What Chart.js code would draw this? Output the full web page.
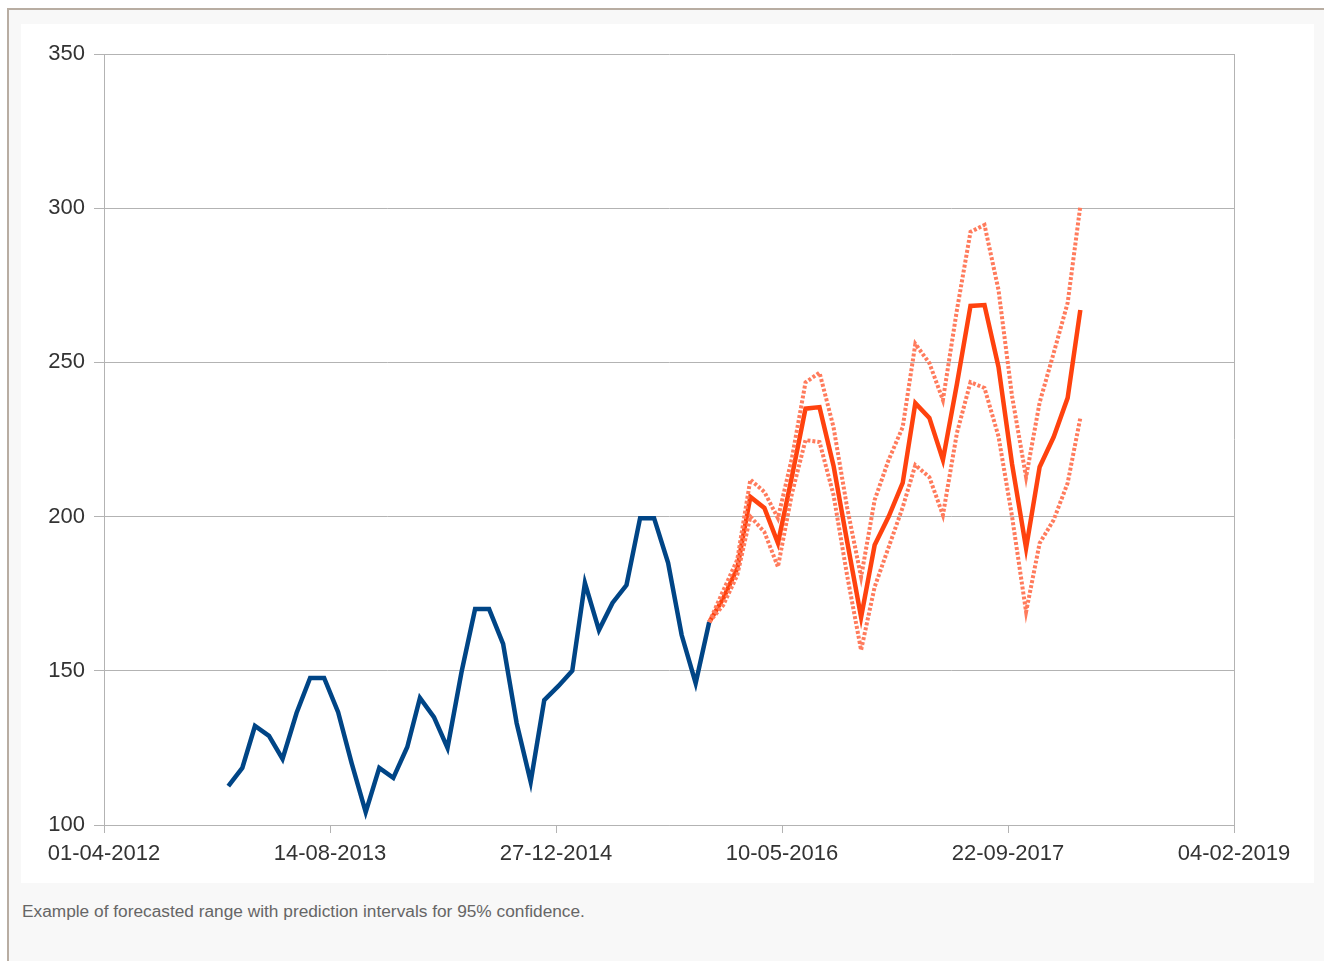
<!DOCTYPE html>
<html>

<head>
  <title>Forecast with prediction intervals</title>
  <script src="https://cdn.jsdelivr.net/npm/chart.js"></script>
  <style>
    body {
      margin: 0;
      background-color: #fff;
      font-family: "Liberation Sans", Arial, sans-serif;
    }

    #frame {
      position: absolute;
      left: 7px;
      top: 8px;
      width: 1400px;
      height: 1000px;
      border: 2px solid #b8ada2;
      background-color: #f8f8f8;
    }

    #chartContainer {
      position: absolute;
      left: 21px;
      top: 24px;
      width: 1293px;
      height: 859px;
      background-color: #fff;
    }

    #caption {
      position: absolute;
      left: 22px;
      top: 901px;
      font-size: 17.3px;
      color: #666;
    }
  </style>
</head>

<body>
  <div id="frame"></div>
  <div id="chartContainer">
    <canvas id="myChart"></canvas>
  </div>
  <div id="caption">Example of forecasted range with prediction intervals for 95% confidence.</div>

  <script>
    // observed monthly values
    const actualDates = [
      '2013-01-01', '2013-02-01', '2013-03-01', '2013-04-01', '2013-05-01', '2013-06-01',
      '2013-07-01', '2013-08-01', '2013-09-01', '2013-10-01', '2013-11-01', '2013-12-01',
      '2014-01-01', '2014-02-01', '2014-03-01', '2014-04-01', '2014-05-01', '2014-06-01',
      '2014-07-01', '2014-08-01', '2014-09-01', '2014-10-01', '2014-11-01', '2014-12-01',
      '2015-01-01', '2015-02-01', '2015-03-01', '2015-04-01', '2015-05-01', '2015-06-01',
      '2015-07-01', '2015-08-01', '2015-09-01', '2015-10-01', '2015-11-01', '2015-12-01'
    ];
    const actualValues = [
      112.6, 118.5, 132.1, 128.9, 121.4, 136.3, 147.7, 147.7, 136.6, 120, 104.2, 118.5,
      115.3, 125.3, 141.2, 135.0, 125.0, 149.6, 170, 170, 158.7, 133, 114, 140.5,
      145, 150, 178.5, 163.2, 172, 177.8, 199.5, 199.5, 185, 161.6, 146, 165.8
    ];

    // forecast and 95% bounds
    const forecastDates = [
      '2015-12-01',
      '2016-01-01', '2016-02-01', '2016-03-01', '2016-04-01', '2016-05-01', '2016-06-01',
      '2016-07-01', '2016-08-01', '2016-09-01', '2016-10-01', '2016-11-01', '2016-12-01',
      '2017-01-01', '2017-02-01', '2017-03-01', '2017-04-01', '2017-05-01', '2017-06-01',
      '2017-07-01', '2017-08-01', '2017-09-01', '2017-10-01', '2017-11-01', '2017-12-01',
      '2018-01-01', '2018-02-01', '2018-03-01'
    ];
    const forecastValues = [
      165.8, 173.5, 183.2, 206.4, 202.8, 191.4, 213, 235, 235.5, 216.5, 192, 167.4, 190.8,
      200, 210.9, 236.8, 232, 218.4, 243, 268.3, 268.6, 248.5, 217, 189.8, 216.1, 225.8,
      238.5, 267
    ];
    const upperValues = [
      165.8, 176, 186, 212, 208, 199.5, 219, 243.5, 246.7, 229, 203, 180.4, 205.4,
      218.4, 229, 256, 249.8, 237.8, 267, 292.3, 294.6, 273.5, 239, 212.8, 237, 253,
      269.3, 300.7
    ];
    const lowerValues = [
      165.8, 171.3, 181, 200, 195, 183.7, 207.5, 224.8, 224.2, 207, 181, 156.7, 177.2,
      190.1, 203, 216.7, 212.8, 200.5, 227.1, 243.6, 241.7, 226, 200, 169.1, 191.4, 198.9,
      210.9, 232
    ];

    const yTicks = [100, 150, 200, 250, 300, 350];

    const origin = Date.UTC(2012, 3, 1);
    const dayMs = 86400000;

    function toDay(s) {
      const p = s.split('-');
      return (Date.UTC(+p[0], +p[1] - 1, +p[2]) - origin) / dayMs;
    }

    function fmtDay(v) {
      const d = new Date(origin + v * dayMs);
      const dd = String(d.getUTCDate()).padStart(2, '0');
      const mm = String(d.getUTCMonth() + 1).padStart(2, '0');
      return dd + '-' + mm + '-' + d.getUTCFullYear();
    }

    function pairs(dates, values) {
      return dates.map((d, i) => ({ x: toDay(d), y: values[i] }));
    }

    const gridColor = '#b3b3b3';
    const ctx = document.getElementById('myChart').getContext('2d');
    new Chart(ctx, {
      type: 'line',
      data: {
        datasets: [{
          data: pairs(forecastDates, upperValues),
          borderColor: '#ff7b5c',
          borderWidth: 4,
          borderDash: [3, 2],
          pointRadius: 0,
          fill: false
        },
        {
          data: pairs(forecastDates, lowerValues),
          borderColor: '#ff7b5c',
          borderWidth: 4,
          borderDash: [3, 2],
          pointRadius: 0,
          fill: false
        },
        {
          data: pairs(actualDates, actualValues),
          borderColor: '#004586',
          borderWidth: 4.5,
          pointRadius: 0,
          fill: false
        },
        {
          data: pairs(forecastDates, forecastValues),
          borderColor: '#ff420e',
          borderWidth: 4.5,
          pointRadius: 0,
          fill: false
        }
        ]
      },
      options: {
        responsive: true,
        maintainAspectRatio: false,
        animation: false,
        layout: {
          padding: { top: 30, right: 80, left: 0, bottom: 0 }
        },
        scales: {
          x: {
            type: 'linear',
            min: 0,
            max: 2500,
            afterBuildTicks: (scale) => {
              scale.ticks = [0, 500, 1000, 1500, 2000, 2500].map(v => ({ value: v }));
            },
            afterFit: (scale) => { scale.height = 58; },
            grid: {
              color: (c) => c.tick && c.tick.value === 2500 ? gridColor : 'rgba(0,0,0,0)',
              tickColor: gridColor,
              tickLength: 8,
              lineWidth: 1
            },
            border: { color: gridColor },
            ticks: {
              color: '#333',
              padding: 8,
              maxRotation: 0,
              autoSkip: false,
              font: { family: 'Liberation Sans', size: 22 },
              callback: (v) => fmtDay(v)
            }
          },
          y: {
            min: 100,
            max: 350,
            afterBuildTicks: (scale) => {
              scale.ticks = yTicks.map(v => ({ value: v }));
            },
            afterFit: (scale) => { scale.width = 83; },
            grid: {
              color: gridColor,
              tickColor: gridColor,
              tickLength: 10,
              lineWidth: 1
            },
            border: { color: gridColor },
            ticks: {
              color: '#333',
              padding: 9,
              font: { family: 'Liberation Sans', size: 22 }
            }
          }
        },
        plugins: {
          legend: { display: false },
          tooltip: { enabled: false }
        }
      }
    });
  </script>
</body>

</html>
